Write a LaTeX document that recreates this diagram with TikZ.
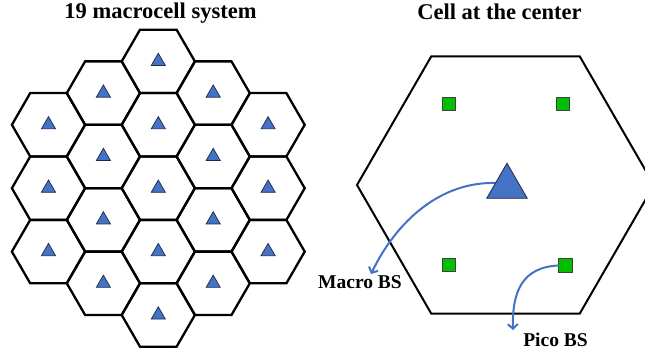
\documentclass[tikz,border=0pt]{standalone}
\usepackage{fontspec}
\setmainfont{Liberation Serif}
\usetikzlibrary{shapes.geometric,arrows.meta}
\definecolor{bsblue}{HTML}{4472C4}
\definecolor{bsedge}{HTML}{1F2A44}
\definecolor{picogreen}{HTML}{00C000}
\begin{document}
\begin{tikzpicture}[x=1pt,y=-1pt,
  hexline/.style={line width=2.3pt,line join=miter},
  bigline/.style={line width=2pt,line join=miter},
  macrosmall/.style={regular polygon,regular polygon sides=3,minimum size=16.4pt,
    inner sep=0pt,outer sep=0pt,fill=bsblue,draw=bsedge,line width=0.7pt},
  macrobig/.style={regular polygon,regular polygon sides=3,minimum size=46.8pt,
    inner sep=0pt,outer sep=0pt,fill=bsblue,draw=bsedge,line width=0.8pt},
  pico/.style={rectangle,minimum size=13.5pt,inner sep=0pt,outer sep=0pt,
    fill=picogreen,draw=black!75,line width=0.7pt},
  title/.style={font=\fontsize{22.5}{24}\selectfont\bfseries,inner sep=0pt,anchor=base},
  lbl/.style={font=\fontsize{19.5}{21}\selectfont\bfseries,inner sep=0pt,anchor=base},
  bsarrow/.style={draw=bsblue,line width=2pt,-{Straight Barb[length=4.5pt,width=10pt]}}]
\useasboundingbox (0,0) rectangle (645,352);

% titles
\node[title] (t1) at (160.5,18.5) {19 macrocell system};
\node[title] (t2) at (499.5,20) {Cell at the center};

% 19-cell layout of flat-topped hexagons, R = 36.6
\def\R{36.6}
\foreach \x/\y [count=\i] in {
  48.5/124.8, 48.5/188.2, 48.5/251.6,
  103.4/93.1, 103.4/156.5, 103.4/219.9, 103.4/283.3,
  158.3/61.4, 158.3/124.8, 158.3/188.2, 158.3/251.6, 158.3/315.0,
  213.2/93.1, 213.2/156.5, 213.2/219.9, 213.2/283.3,
  268.1/124.8, 268.1/188.2, 268.1/251.6}{
  \draw[hexline] (\x,\y) ++(0:\R) -- ++(120:\R) -- ++(180:\R) -- ++(240:\R)
     -- ++(300:\R) -- ++(0:\R) -- cycle;
}
\foreach \x/\y [count=\i] in {
  48.5/124.8, 48.5/188.2, 48.5/251.6,
  103.4/93.1, 103.4/156.5, 103.4/219.9, 103.4/283.3,
  158.3/61.4, 158.3/124.8, 158.3/188.2, 158.3/251.6, 158.3/315.0,
  213.2/93.1, 213.2/156.5, 213.2/219.9, 213.2/283.3,
  268.1/124.8, 268.1/188.2, 268.1/251.6}{
  \node[macrosmall] (m\i) at (\x,\y) {};
}

% the centre cell, enlarged (R = 148.5)
\draw[bigline] (505.5,185) ++(0:148.5) -- ++(120:148.5) -- ++(180:148.5)
   -- ++(240:148.5) -- ++(300:148.5) -- ++(0:148.5) -- cycle;

% pico base stations
\node[pico] (p1) at (449,104) {};
\node[pico] (p2) at (563,104) {};
\node[pico] (p3) at (449,265) {};
\node[pico] (p4) at (565.5,265.5) {};

% labels
\node[lbl] (lmacro) at (360,289) {Macro BS};
\node[lbl] (lpico) at (555.5,346.5) {Pico BS};

% pointers
\coordinate (macroFrom) at (497,183);
\coordinate (macroTip) at (371,274);
\coordinate (picoTip) at (513,330);
\draw[bsarrow] (macroFrom) .. controls (440,181) and (396,222) .. (macroTip);
\draw[bsarrow] (p4.west) .. controls (522,267) and (512,292) .. (picoTip);

% macro base station of the centre cell
\node[macrobig] (mbig) at (507,186.6) {};
\end{tikzpicture}
\end{document}
